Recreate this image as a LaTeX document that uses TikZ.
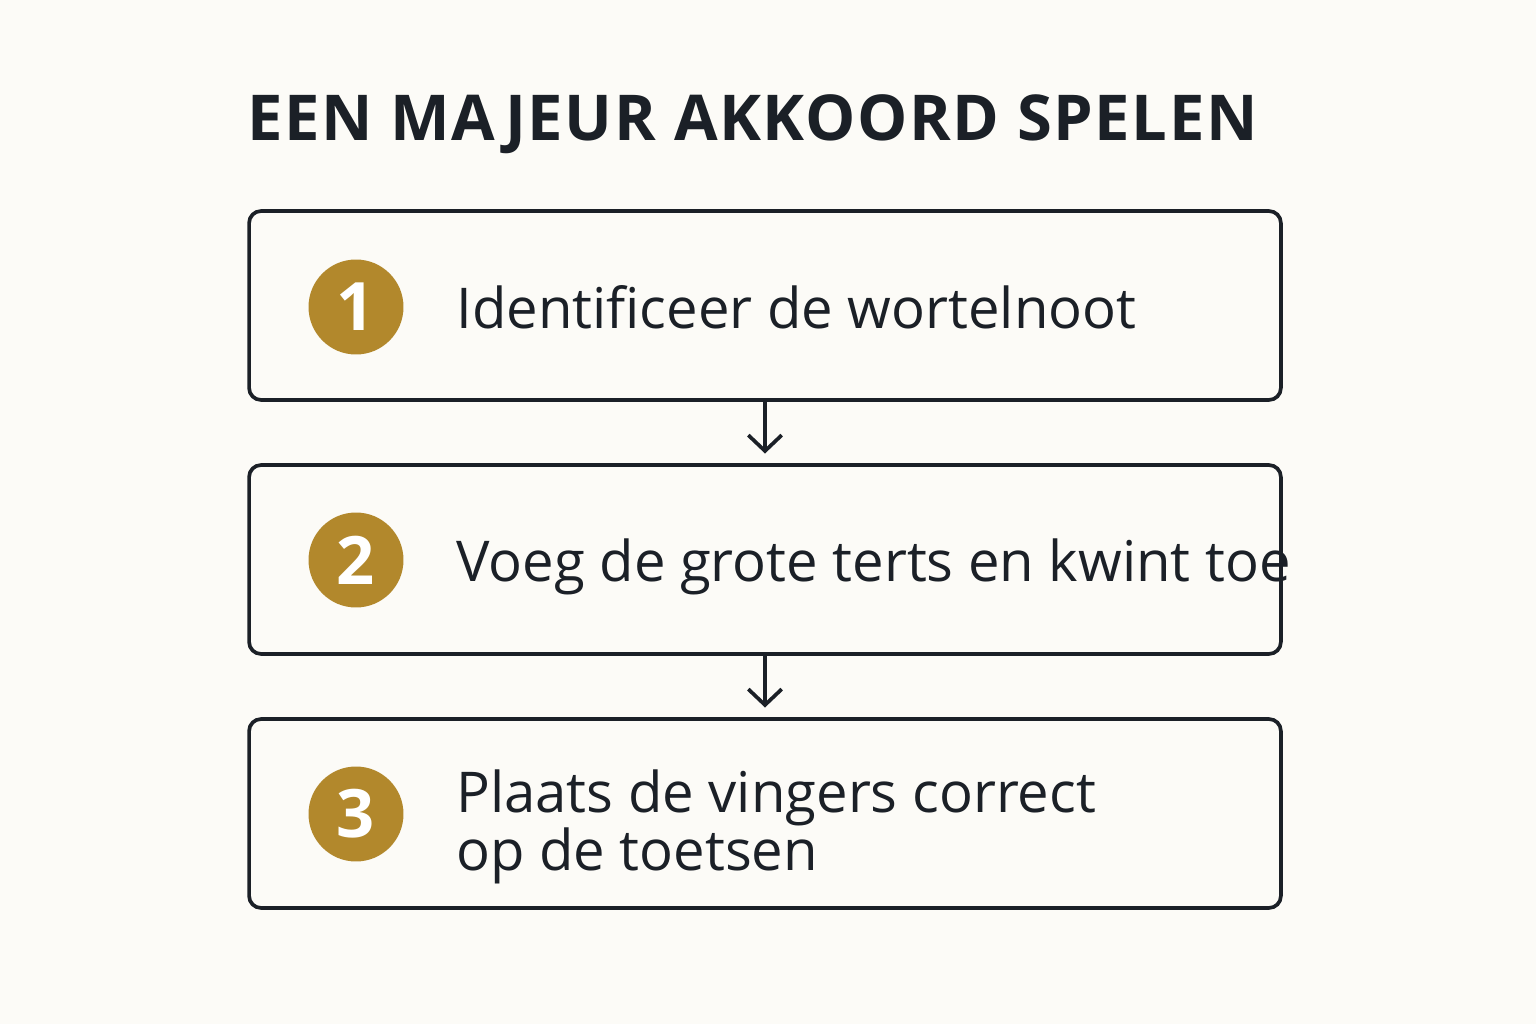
\documentclass[tikz,border=0pt]{standalone}
\usepackage{fontspec}
\setmainfont{Open Sans}
\usetikzlibrary{arrows.meta}
\definecolor{paper}{HTML}{FCFBF7}
\definecolor{ink}{HTML}{1B2027}
\definecolor{gold}{HTML}{B2882C}
\begin{document}
\begin{tikzpicture}[x=0.02cm, y=-0.02cm]
\tikzstyle{stepbox}=[draw=ink, line width=2.1pt, rounded corners=0.24cm, minimum width=20.64cm, minimum height=3.78cm, fill=none]
\tikzstyle{num}=[circle, fill=gold, minimum size=1.9cm, inner sep=0pt, text=white, font=\fontsize{38}{38}\selectfont\bfseries]
\tikzstyle{tx}=[anchor=base west, inner sep=0pt, text=ink, font=\fontsize{32}{33}\selectfont, align=left]
\tikzstyle{arr}=[-{Straight Barb[length=9pt, width=19pt]}, draw=ink, line width=2.1pt, shorten >=5.5pt]
\fill[paper] (0,0) rectangle (1536,1024);

\node[anchor=base west, inner sep=0pt, text=ink, font=\addfontfeature{LetterSpace=2.5}\fontsize{36}{36}\selectfont\bfseries] (title) at (247,141) {EEN MAJEUR AKKOORD SPELEN};

\node[tx] (T1) at (456,328) {Identificeer de wortelnoot};
\node[tx] (T2) at (456,581) {Voeg de grote terts en kwint toe};
\node[tx] (T3) at (456,870) {Plaats de vingers correct\\op de toetsen};

\node[stepbox] (B1) at (765,305.5) {};
\node[stepbox] (B2) at (765,559.5) {};
\node[stepbox] (B3) at (765,813.5) {};

\node[num] (N1) at (356,307) {1};
\node[num] (N2) at (356,560) {2};
\node[num] (N3) at (356,814) {3};

\draw[arr] (B1.south) -- (B2.north);
\draw[arr] (B2.south) -- (B3.north);
\end{tikzpicture}
\end{document}
